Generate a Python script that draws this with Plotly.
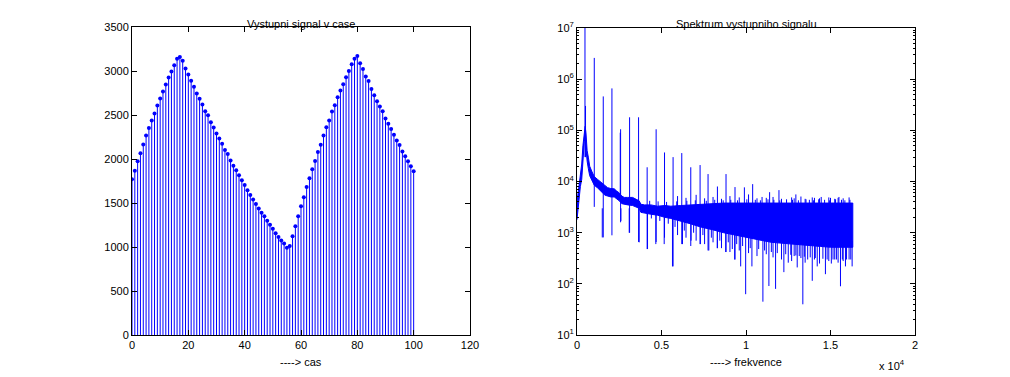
import plotly.graph_objects as go

# ---------------- data: left plot (output signal in time) ----------------
sig_t = list(range(101))
sig_v = [1773, 1871, 1977, 2068, 2170, 2272, 2355, 2442, 2521, 2612,
         2691, 2771, 2850, 2930, 2998, 3069, 3145, 3165, 3122, 3032,
         2964, 2895, 2827, 2748, 2688, 2623, 2548, 2502, 2423, 2363,
         2294, 2238, 2177, 2105, 2060, 1988, 1928, 1875, 1818, 1761,
         1709, 1648, 1595, 1542, 1493, 1440, 1391, 1353, 1300, 1255,
         1210, 1160, 1115, 1077, 1043, 994, 1013, 1126, 1240, 1353,
         1467, 1569, 1686, 1784, 1886, 1981, 2083, 2166, 2272, 2366,
         2442, 2544, 2616, 2706, 2782, 2854, 2933, 3005, 3081, 3145,
         3175, 3092, 3028, 2941, 2892, 2801, 2729, 2661, 2601, 2548,
         2465, 2404, 2344, 2279, 2215, 2162, 2090, 2034, 1977, 1920,
         1864]

# ---------------- data: right plot (spectrum) ----------------
env_f = [0, 40, 120, 200, 280, 350, 430, 480, 530, 600, 670, 750, 870, 1020,
         1220, 1370, 1516, 1660, 1811, 2000, 2205, 2350, 2500, 2650, 2795, 3000,
         3290, 3500, 3680, 3780, 4000, 4370, 4764, 5200, 5551, 6141, 6700, 7300,
         8000, 8680, 9300, 10000, 10450, 11000, 11500, 12050, 12600, 13200,
         13800, 14400, 15000, 15600, 16000, 16320]
env_hi = [4000, 5000, 9000, 14000, 22000, 50000, 110000, 120000, 90000, 40000,
          30000, 20000, 16000, 12500, 11000, 10000, 9000, 8200, 7600, 7300, 7200,
          6500, 6000, 5200, 4900, 4900, 4900, 4500, 4200, 3600, 3500, 3500, 3300,
          3400, 3300, 3400, 3500, 3600, 3700, 3800, 3800, 3800, 3800, 3800, 3800,
          3800, 3800, 3800, 3800, 3800, 3800, 3800, 3800, 3800]
env_lo = [1800, 2500, 4000, 8000, 11000, 25000, 60000, 70000, 45000, 25000,
          18000, 13000, 10500, 8500, 7500, 6800, 6000, 5400, 5200, 5000, 5000,
          4500, 4200, 3700, 3600, 3500, 3400, 3200, 3000, 2500, 2400, 2300, 2200,
          2000, 1900, 1700, 1500, 1300, 1150, 1000, 900, 800, 760, 700, 650, 620,
          600, 580, 560, 540, 520, 520, 520, 520]

# vertical spikes (harmonics, dips and noise fringe): frequency, lower end, upper end
spk_f = [472, 505, 1022, 1553, 2067, 2560, 2580, 3111, 3643, 4151, 4683, 5179,
         5686, 6200, 6732, 7283, 7755, 8309, 8818, 9350, 9905, 10394, 10950,
         11397, 11950, 12950, 13920, 14450, 15000, 15500,
         1495, 2598, 3090, 3680, 4173, 4665, 5160, 5650, 6241, 6750, 7300, 7800,
         8300, 8800, 9190, 9330, 9685, 9980, 10350, 11000, 11355, 11750, 12240,
         12500, 13030, 13363, 13650, 13920, 14215, 14700, 15050, 15590, 15885,
         16280,
         5950, 6450, 7050, 7550, 8050, 8550, 9050, 9600, 10150, 10650, 11200,
         11600, 12100, 12700, 12850, 13250, 13500, 14050, 14350, 14900, 15250,
         15450, 15750, 16100,
         4400, 4900, 5400, 5800, 6350, 6900, 7450, 7950, 8450, 8950, 9450, 9800,
         10250, 10750, 11100, 11500, 11850, 12350, 12650, 12950, 13150, 13450,
         13800, 14100, 14550, 14800, 15150, 15350, 15700, 15950, 16200,
         4300, 4800, 5300, 5900, 6500, 7000, 7650, 8150, 8650, 9100, 9500, 10050,
         10550, 10850, 11300, 11650, 12000, 12400, 12750, 13100, 13550, 13750,
         14000, 14300, 14650, 14950, 15300, 15650, 15850, 16150]
spk_lo = [30000, 30000, 3200, 810, 890, 5000, 1600, 1000, 660, 480, 660, 800,
          220, 600, 550, 600, 450, 500, 420, 300, 900, 2000, 2000,
          2000, 2000, 2000, 2000, 2000, 2000, 2000,
          810, 1700, 1000, 650, 480, 600, 600, 220, 600, 700, 600, 450,
          500, 420, 480, 300, 220, 63, 220, 45, 91, 80, 170,
          260, 210, 40, 300, 115, 220, 155, 250, 90, 220,
          220,
          900, 800, 700, 600, 650, 500, 420, 450, 400, 350, 380,
          330, 300, 280, 350, 320, 260, 300, 250, 280, 300,
          260, 280, 300,
          1900, 1700, 1500, 1300, 1100, 1000, 900, 800, 700, 650, 600, 550,
          500, 480, 450, 420, 400, 380, 370, 360, 350, 340,
          330, 320, 310, 300, 300, 300, 300, 300, 300,
          3000, 3000, 3000, 2800, 2800, 2800, 2800, 2800, 2800, 2800, 2800, 2800,
          2800, 2800, 2800, 2800, 2800, 2800, 2800, 2800, 2800, 2800,
          2800, 2800, 2800, 2800, 2800, 2800, 2800, 2800]
spk_hi = [12000000, 300000, 2600000, 460000, 660000, 90000, 105000, 180000,
          180000, 19000, 105000, 37000, 30000, 36000, 19000, 21000, 14000, 8000,
          14000, 7800, 7700, 8900, 5000, 6200, 6800, 5600, 4900, 5000, 4800, 5000,
          3000, 3000, 3000, 3000, 2500, 2500, 2500, 2200, 2000, 2000, 1800, 1600,
          1400, 1300, 1200, 1200, 1100, 1000, 1000, 900, 900, 900, 800,
          800, 800, 700, 700, 700, 700, 700, 700, 700, 700,
          700,
          5200, 4800, 5500, 4700, 5000, 4600, 5200, 4900, 5600, 4700, 4800,
          5000, 4600, 4900, 4700, 5100, 4600, 4800, 4700, 4900, 4600,
          4800, 4700, 4900,
          2600, 2500, 2400, 2200, 2000, 1900, 1700, 1600, 1400, 1300, 1200, 1100,
          1000, 950, 900, 850, 800, 800, 750, 750, 700, 700,
          700, 700, 650, 650, 650, 650, 650, 650, 650,
          4200, 4100, 4000, 4100, 4200, 4300, 4200, 4400, 4300, 4400, 4300, 4500,
          4400, 4300, 4500, 4400, 4300, 4500, 4400, 4300, 4500, 4400,
          4300, 4500, 4400, 4300, 4500, 4400, 4300, 4400]

# ---------------- figure ----------------
BLUE = "#0000ff"
fig = go.Figure()

# stems
sx, sy = [], []
for t, v in zip(sig_t, sig_v):
    sx += [t, t, None]
    sy += [0, v, None]
fig.add_trace(go.Scatter(x=sx, y=sy, mode="lines", line=dict(color=BLUE, width=1),
                         xaxis="x", yaxis="y", hoverinfo="skip", showlegend=False))
fig.add_trace(go.Scatter(x=sig_t, y=sig_v, mode="markers",
                         marker=dict(color=BLUE, size=4),
                         xaxis="x", yaxis="y", showlegend=False))

# spectrum band
fig.add_trace(go.Scatter(x=env_f + env_f[::-1], y=env_hi + env_lo[::-1],
                         mode="lines", fill="toself", fillcolor=BLUE,
                         line=dict(color=BLUE, width=1),
                         xaxis="x2", yaxis="y2", showlegend=False))
# spikes
px_, py_ = [], []
for f, lo, hi in zip(spk_f, spk_lo, spk_hi):
    px_ += [f, f, None]
    py_ += [lo, hi, None]
fig.add_trace(go.Scatter(x=px_, y=py_, mode="lines", line=dict(color=BLUE, width=1),
                         xaxis="x2", yaxis="y2", hoverinfo="skip", showlegend=False))

W, H = 1010, 377
# mapping from target pixel positions to paper fractions (measured for this viewer)
OX, SW = 10.0, 998.0
OY, SH = 16.0, 364.0
def px(xp):
    return (xp - OX) / SW
def py(yp):
    return 1 - (yp - OY) / SH

FONT = dict(family="Liberation Sans, Arial, sans-serif", size=11, color="black")
ax_common = dict(showline=True, linecolor="black", linewidth=1, mirror="ticks",
                 ticks="inside", ticklen=5, tickcolor="black", showgrid=False,
                 zeroline=False, tickfont=FONT)

minor_vals = [k * 10 ** d for d in range(1, 7) for k in range(2, 10)]

def ann(text, x, y, xa="center", ya="middle"):
    return dict(text=text, x=px(x), y=min(py(y), 1.0), xref="paper", yref="paper",
                xanchor=xa, yanchor=ya, showarrow=False, font=FONT)

fig.update_layout(
    width=W, height=H, margin=dict(l=0, r=0, t=0, b=0),
    paper_bgcolor="white", plot_bgcolor="white", font=FONT, showlegend=False,
    xaxis=dict(domain=[px(131), px(469)], range=[0, 120],
               tickvals=[0, 20, 40, 60, 80, 100, 120], anchor="y", **ax_common),
    yaxis=dict(domain=[py(336), py(27.5)], range=[0, 3500],
               tickvals=[0, 500, 1000, 1500, 2000, 2500, 3000, 3500],
               anchor="x", **ax_common),
    xaxis2=dict(domain=[px(576), px(914)], range=[0, 20000],
                tickvals=[0, 5000, 10000, 15000, 20000],
                ticktext=["0", "0.5", "1", "1.5", "2"], anchor="y2", **ax_common),
    yaxis2=dict(domain=[py(336), py(28)], type="log", range=[1, 7],
                tickvals=[10, 100, 1000, 1e4, 1e5, 1e6, 1e7],
                ticktext=["10<sup>1</sup>", "10<sup>2</sup>", "10<sup>3</sup>",
                          "10<sup>4</sup>", "10<sup>5</sup>", "10<sup>6</sup>",
                          "10<sup>7</sup>"],
                minor=dict(ticks="inside", ticklen=2, tickcolor="black",
                           tickmode="array", tickvals=minor_vals),
                anchor="x2", **ax_common),
    annotations=[
        ann("Vystupni signal v case", 300, 4, ya="top"),
        ann("Spektrum vystupniho signalu", 745, 4, ya="top"),
        ann("----> cas", 300, 363),
        ann("----> frekvence", 745, 363),
        ann("x 10<sup>4</sup>", 906, 366, "right"),
    ],
)

fig.write_html("out.html")
